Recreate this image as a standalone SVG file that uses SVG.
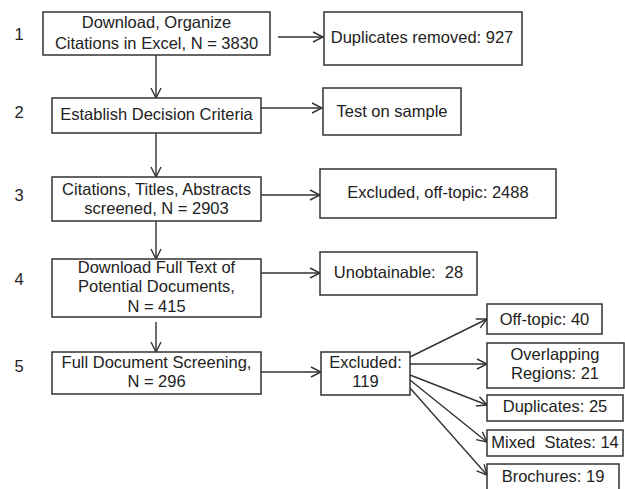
<svg xmlns="http://www.w3.org/2000/svg" width="625" height="489" viewBox="0 0 625 489">
<style>
.b{fill:#fff;stroke:#333;stroke-width:1.5}
.t{font-family:"Liberation Sans",Arial,sans-serif;font-size:16.5px;fill:#222;text-anchor:middle}
.n{font-family:"Liberation Sans",Arial,sans-serif;font-size:16.5px;fill:#222;text-anchor:middle}
.c{stroke:#333;stroke-width:1.4;fill:none;marker-end:url(#ah)}
</style>
<defs>
<marker id="ah" viewBox="0 0 12 12" refX="11" refY="6" markerWidth="12" markerHeight="12" markerUnits="userSpaceOnUse" orient="auto">
<path d="M1,1 L11,6 L1,11" fill="none" stroke="#333" stroke-width="1.4"/>
</marker>
</defs>
<g id="numbers">
<text class="n" x="19" y="40">1</text>
<text class="n" x="19" y="118">2</text>
<text class="n" x="19" y="201">3</text>
<text class="n" x="19" y="285">4</text>
<text class="n" x="19" y="372">5</text>
</g>
<g id="connectors">
<line class="c" x1="156" y1="55" x2="156" y2="98"/>
<line class="c" x1="156" y1="133" x2="156" y2="177"/>
<line class="c" x1="156" y1="221" x2="156" y2="259"/>
<line class="c" x1="156" y1="322" x2="156" y2="352"/>
<line class="c" x1="278" y1="37" x2="323" y2="37"/>
<line class="c" x1="261" y1="108" x2="322" y2="108"/>
<line class="c" x1="261" y1="195" x2="320" y2="195"/>
<line class="c" x1="261" y1="273" x2="320" y2="273"/>
<line class="c" x1="261" y1="372" x2="321" y2="372"/>
<line class="c" x1="410" y1="357" x2="487" y2="319"/>
<line class="c" x1="410" y1="364" x2="487" y2="364"/>
<line class="c" x1="410" y1="375" x2="487" y2="405"/>
<line class="c" x1="410" y1="380" x2="487" y2="442"/>
<line class="c" x1="410" y1="388" x2="487" y2="475"/>
</g>
<g id="n1"><rect class="b" x="43" y="12" width="227" height="43"/><text class="t" x="156.5" y="28">Download, Organize</text><text class="t" x="156.5" y="49">Citations in Excel, N = 3830</text></g>
<g id="n2"><rect class="b" x="52" y="98" width="209" height="35"/><text class="t" x="156.5" y="120">Establish Decision Criteria</text></g>
<g id="n3"><rect class="b" x="52" y="177" width="209" height="44"/><text class="t" x="156.5" y="195">Citations, Titles, Abstracts</text><text class="t" x="156.5" y="214">screened, N = 2903</text></g>
<g id="n4"><rect class="b" x="52" y="259" width="209" height="58"/><text class="t" x="156.5" y="273">Download Full Text of</text><text class="t" x="156.5" y="292">Potential Documents,</text><text class="t" x="156.5" y="312">N = 415</text></g>
<g id="n5"><rect class="b" x="52" y="352" width="209" height="42"/><text class="t" x="156.5" y="368">Full Document Screening,</text><text class="t" x="156.5" y="387">N = 296</text></g>
<g id="r1"><rect class="b" x="324" y="12" width="198" height="53"/><text class="t" x="422" y="43">Duplicates removed: 927</text></g>
<g id="r2"><rect class="b" x="323" y="88" width="138" height="47"/><text class="t" x="392" y="117">Test on sample</text></g>
<g id="r3"><rect class="b" x="320" y="169" width="236" height="49"/><text class="t" x="438" y="198">Excluded, off-topic: 2488</text></g>
<g id="r4"><rect class="b" x="320" y="252" width="157" height="43"/><text class="t" x="398.5" y="278">Unobtainable:&#160; 28</text></g>
<g id="r5"><rect class="b" x="321" y="352" width="89" height="43"/><text class="t" x="365.5" y="368">Excluded:</text><text class="t" x="365.5" y="387">119</text></g>
<g id="s1"><rect class="b" x="487" y="304" width="115" height="30"/><text class="t" x="544.5" y="325">Off-topic: 40</text></g>
<g id="s2"><rect class="b" x="487" y="343" width="137" height="45"/><text class="t" x="555" y="360">Overlapping</text><text class="t" x="555" y="379">Regions: 21</text></g>
<g id="s3"><rect class="b" x="487" y="395" width="136" height="26"/><text class="t" x="555" y="412">Duplicates: 25</text></g>
<g id="s4"><rect class="b" x="487" y="430" width="136" height="26"/><text class="t" x="555" y="448">Mixed&#160; States: 14</text></g>
<g id="s5"><rect class="b" x="487" y="464" width="132" height="30"/><text class="t" x="553" y="482">Brochures: 19</text></g>
</svg>
